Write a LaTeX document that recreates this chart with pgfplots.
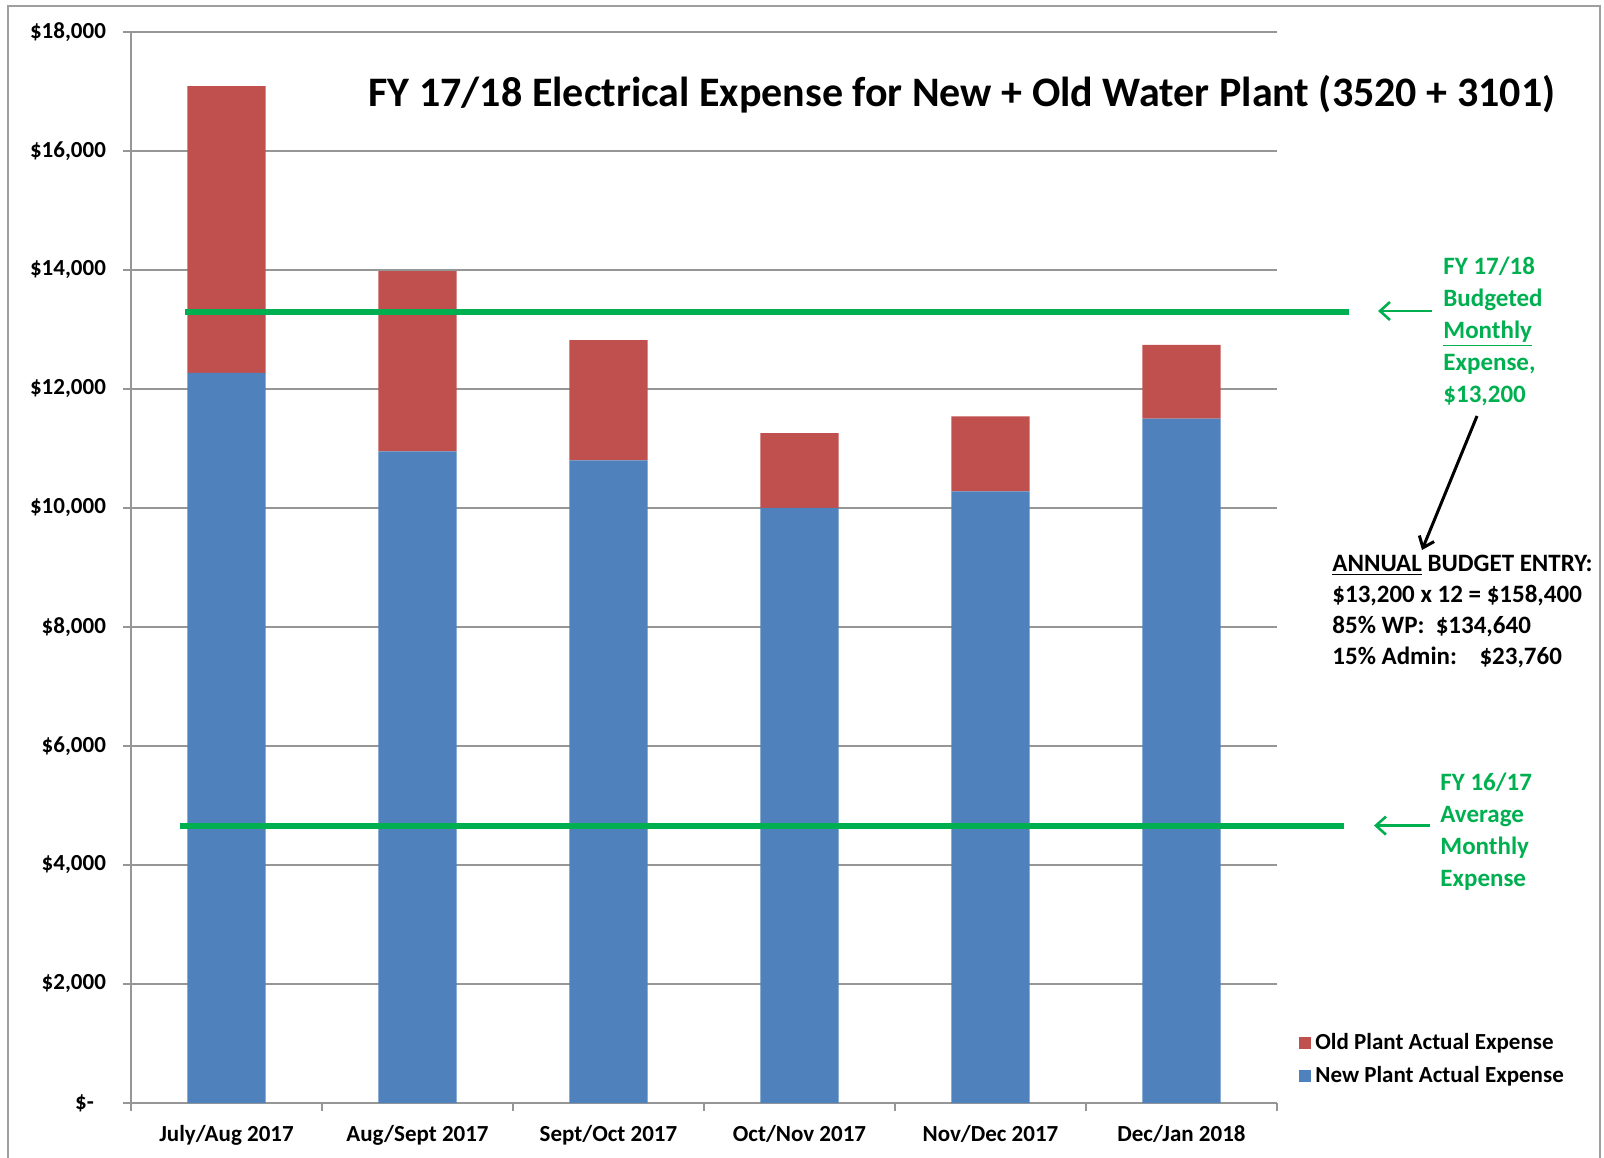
\documentclass[border=0pt]{standalone}
\usepackage{fontspec}
\setmainfont{Carlito}
\usepackage{pgfplots}
\pgfplotsset{compat=1.18}
\usetikzlibrary{arrows.meta}
\definecolor{newc}{HTML}{4F81BD}
\definecolor{oldc}{HTML}{C0504D}
\definecolor{xlgreen}{HTML}{00B050}
\definecolor{gridc}{HTML}{969696}
\begin{document}
\begin{tikzpicture}
\path[use as bounding box] (-65.5pt,-27pt) rectangle (736.5pt,551.5pt);
\draw[color=gray!75, line width=1pt] (-61.5pt,-28pt) -- (-61.5pt,548.5pt) -- (734.5pt,548.5pt) -- (734.5pt,-28pt);
\begin{axis}[
  at={(0pt,0pt)}, anchor=south west,
  scale only axis, width=573pt, height=535.5pt,
  xmin=-0.5, xmax=5.5, ymin=0, ymax=18000,
  scaled ticks=false,
  ybar stacked, bar width=0.41,
  axis lines*=left,
  axis line style={gridc, line width=1pt},
  ymajorgrids, grid style={gridc, line width=1pt},
  tick align=outside,
  major tick length=4pt, minor tick length=4pt,
  tick style={gridc, line width=1pt},
  xtick={0,...,5},
  xticklabels={July/Aug 2017, Aug/Sept 2017, Sept/Oct 2017, Oct/Nov 2017, Nov/Dec 2017, Dec/Jan 2018},
  major x tick style={draw=none},
  minor xtick={-0.5,0.5,1.5,2.5,3.5,4.5,5.5},
  ytick={0,2000,...,18000},
  yticklabels={{\$-\kern 6pt},{\$2,000},{\$4,000},{\$6,000},{\$8,000},{\$10,000},{\$12,000},{\$14,000},{\$16,000},{\$18,000}},
  ticklabel style={font=\fontsize{11.5}{13}\selectfont\bfseries},
  xticklabel style={yshift=-3.5pt},
  yticklabel style={xshift=-5pt},
  reverse legend,
  legend cell align=left,
  legend style={at={(1.0192,0.041)}, anchor=west, draw=none, fill=none,
    font=\fontsize{11.5}{13}\selectfont\bfseries, row sep=3pt, inner sep=0pt},
  legend image code/.code={\fill[#1] (0pt,-3pt) rectangle (6pt,3pt);},
]
\addplot[fill=newc, draw=none] coordinates {(0,12270) (1,10950) (2,10800) (3,10000) (4,10280) (5,11500)};
\addlegendentry{New Plant Actual Expense}
\addplot[fill=oldc, draw=none] coordinates {(0,4820) (1,3030) (2,2020) (3,1260) (4,1260) (5,1240)};
\addlegendentry{Old Plant Actual Expense}
\end{axis}
\begin{axis}[
  at={(0pt,0pt)}, anchor=south west,
  scale only axis, width=573pt, height=535.5pt,
  xmin=-0.5, xmax=5.5, ymin=0, ymax=18000,
  scaled ticks=false,
  hide axis, clip=false,
]
\addplot[xlgreen, line width=3pt] coordinates {(-0.216,13300) (5.875,13300)};
\addplot[xlgreen, line width=3pt] coordinates {(-0.243,4660) (5.853,4660)};
\end{axis}
\node[font=\fontsize{21}{25}\selectfont\bfseries] at (415.5pt,504.5pt) {FY 17/18 Electrical Expense for New + Old Water Plant (3520 + 3101)};
\draw[xlgreen, line width=1.3pt, {Straight Barb[length=5pt,width=9pt]}-] (623.5pt,396pt) -- (650.5pt,396pt);
\draw[xlgreen, line width=1.3pt, {Straight Barb[length=5pt,width=9pt]}-] (621.5pt,138.7pt) -- (649.5pt,138.7pt);
\draw[black, line width=1.5pt, -{Straight Barb[length=5pt,width=8pt]}] (673pt,343.5pt) -- (645.5pt,276.5pt);
\node[anchor=north west, align=left, text=xlgreen, inner sep=0pt, font=\fontsize{12.5}{16}\selectfont\bfseries] at (656pt,423pt)
  {FY 17/18\\Budgeted\\\underline{Monthly}\\Expense,\\\$13,200};
\node[anchor=north west, align=left, text=xlgreen, inner sep=0pt, font=\fontsize{12.5}{16}\selectfont\bfseries] at (654.5pt,165.2pt)
  {FY 16/17\\Average\\Monthly\\Expense};
\node[anchor=north west, align=left, inner sep=0pt, font=\fontsize{12.5}{15.5}\selectfont\bfseries] at (600.5pt,274.2pt)
  {\underline{ANNUAL} BUDGET ENTRY:\\\$13,200 x 12 = \$158,400\\85\% WP:\ \ \$134,640\\15\% Admin:\hspace{0.9em}\$23,760};
\end{tikzpicture}
\end{document}
